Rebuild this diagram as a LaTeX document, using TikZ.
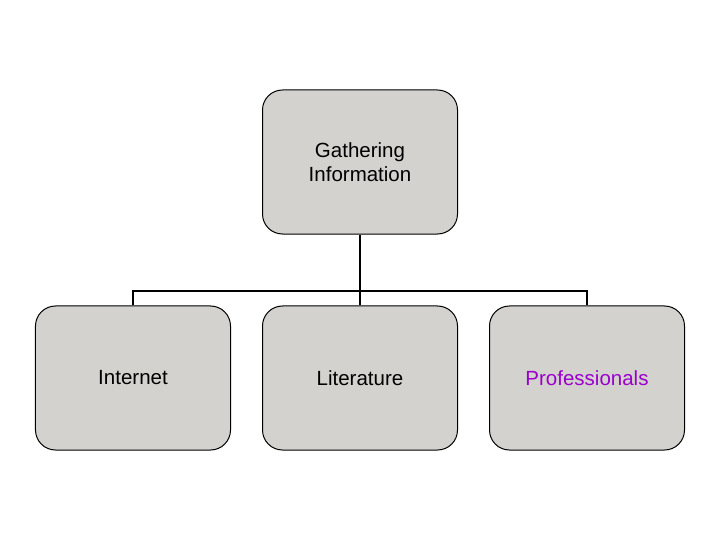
\documentclass[tikz,border=0pt]{standalone}
\usepackage{fontspec}
\setmainfont{Liberation Sans}
\definecolor{boxgray}{RGB}{212,210,206}
\definecolor{profpurple}{RGB}{153,0,204}
\begin{document}
\begin{tikzpicture}[x=1bp,y=-1bp,
  orgbox/.style={draw=black, line width=1bp, fill=boxgray, rounded corners=20bp,
    minimum width=195bp, minimum height=144bp, inner sep=0pt, align=center,
    font=\fontsize{20.5bp}{24bp}\selectfont},
  conn/.style={line width=2.2bp}]
\useasboundingbox (0,0) rectangle (720,540);
\node[orgbox] (top) at (360,162) {Gathering\\Information};
\node[orgbox] (inet) at (133,378) {Internet};
\node[orgbox] (lit) at (360,378) {Literature};
\node[orgbox, text=profpurple] (prof) at (587,378) {Professionals};
\coordinate (hub) at (360,291);
\draw[conn] (top.south) -- (hub);
\draw[conn] (inet.north) -- (inet.north |- hub) -- (prof.north |- hub) -- (prof.north);
\draw[conn] (hub) -- (lit.north);
\end{tikzpicture}
\end{document}
